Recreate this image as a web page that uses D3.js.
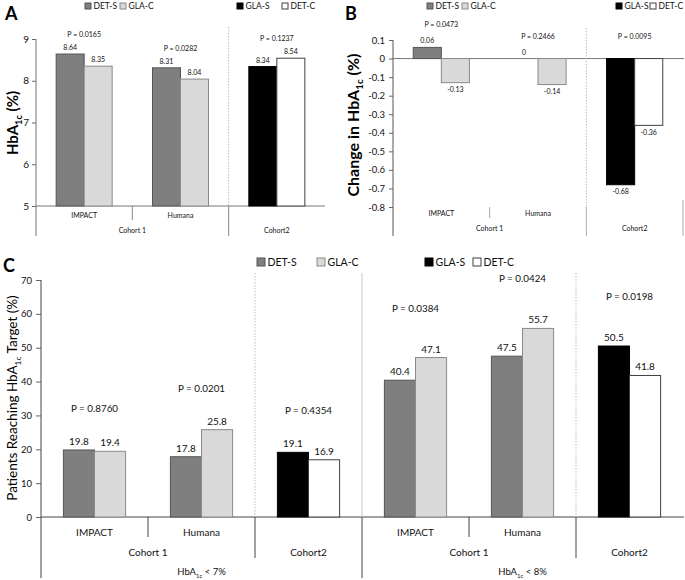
<!DOCTYPE html>
<html>
<head>
<meta charset="utf-8">
<script src="https://cdn.jsdelivr.net/npm/d3@7"></script>
<style>
  body { margin: 0; background: #fff; }
  svg { display: block; font-family: Lato, "Open Sans", sans-serif; }
</style>
</head>
<body>
<div id="chart"></div>
<script>
// chart data
var groups = ["IMPACT", "Humana", "Cohort2"];
var cohortLabels = ["Cohort 1", "Cohort2"];
var cohort1Series = ["DET-S", "GLA-C"];
var cohort2Series = ["GLA-S", "DET-C"];

// panel A - HbA1c
var hbaValues = [[8.64, 8.35], [8.31, 8.04], [8.34, 8.54]];
var hbaP = ["P = 0.0165", "P = 0.0282", "P = 0.1237"];
var hbaTicks = [5, 6, 7, 8, 9];

// panel B - change in HbA1c
var changeValues = [[0.06, -0.13], [0, -0.14], [-0.68, -0.36]];
var changeP = ["P = 0.0473", "P = 0.2466", "P = 0.0095"];
var changeTicks = [0.1, 0, -0.1, -0.2, -0.3, -0.4, -0.5, -0.6, -0.7, -0.8];

// panel C - patients reaching target
var targetSections = ["< 7%", "< 8%"];
var target7Values = [[19.8, 19.4], [17.8, 25.8], [19.1, 16.9]];
var target7P = ["P = 0.8760", "P = 0.0201", "P = 0.4354"];
var target8Values = [[40.4, 47.1], [47.5, 55.7], [50.5, 41.8]];
var target8P = ["P = 0.0384", "P = 0.0424", "P = 0.0198"];
var targetTicks = [0, 10, 20, 30, 40, 50, 60, 70];

var fills = {"DET-S": "#7f7f7f", "GLA-C": "#d9d9d9", "GLA-S": "#000000", "DET-C": "#ffffff"};
var strokes = {"DET-S": "#555555", "GLA-C": "#8a8a8a", "GLA-S": "#000000", "DET-C": "#404040"};

var svg = d3.select("#chart").append("svg")
  .attr("width", 685)
  .attr("height", 580);

function seriesOf(i) {
  return i % 3 == 2 ? cohort2Series : cohort1Series;
}

// write "HbA" with a subscript "1c"
function hbaText(sel, before, after, size) {
  sel.append("tspan").text(before + "HbA");
  sel.append("tspan").attr("font-size", size * 0.62).attr("dy", size * 0.28).text("1c");
  sel.append("tspan").attr("dy", -size * 0.28).text(after);
}

function line(g, x1, y1, x2, y2, color, dash) {
  g.append("line")
    .attr("x1", x1).attr("y1", y1).attr("x2", x2).attr("y2", y2)
    .attr("stroke", color)
    .attr("stroke-width", 1)
    .attr("stroke-dasharray", dash || null);
}

function label(g, x, y, txt, size, anchor) {
  return g.append("text")
    .attr("x", x).attr("y", y)
    .attr("text-anchor", anchor || "middle")
    .attr("font-size", size)
    .attr("fill", "#111")
    .text(txt);
}

function legend(g, items, xs, y, box, size) {
  items.forEach(function(name, i) {
    g.append("rect")
      .attr("x", xs[i]).attr("y", y - box / 2)
      .attr("width", box).attr("height", box)
      .attr("fill", fills[name])
      .attr("stroke", strokes[name]);
    label(g, xs[i] + box + 2.5, y + size * 0.36, name, size, "start");
  });
}

// bars + value labels + p labels for a set of groups
function drawBars(g, x, y, base, values, pvals, o) {
  var inner = d3.scaleBand().domain([0, 1]).range([0, x.bandwidth()]).paddingOuter(0.72);
  var bars = [];
  values.forEach(function(pair, i) {
    pair.forEach(function(v, j) {
      bars.push({g: i + o.offset, s: j, v: v, name: seriesOf(i)[j]});
    });
  });

  g.selectAll(null).data(bars.filter(function(d) { return d.v != base; })).enter()
    .append("rect")
    .attr("x", function(d) { return x(d.g) + inner(d.s); })
    .attr("y", function(d) { return y(Math.max(d.v, base)); })
    .attr("width", inner.bandwidth())
    .attr("height", function(d) { return Math.abs(y(d.v) - y(base)); })
    .attr("fill", function(d) { return fills[d.name]; })
    .attr("stroke", function(d) { return strokes[d.name]; })
    .attr("stroke-width", 1);

  g.selectAll(null).data(bars).enter()
    .append("text")
    .attr("x", function(d) { return x(d.g) + inner(d.s) + inner.bandwidth() / 2; })
    .attr("y", function(d) {
      return d.v >= base ? y(d.v) - o.gap : y(d.v) + o.gap + o.valueSize * 0.75;
    })
    .attr("text-anchor", "middle")
    .attr("font-size", o.valueSize)
    .attr("fill", "#111")
    .text(function(d) { return String(d.v); });

  pvals.forEach(function(p, i) {
    var top = Math.max(base, d3.max(values[i]));
    label(g, x(i + o.offset) + x.bandwidth() / 2, y(top) - o.pGap, p, o.pSize);
  });
}

function yAxis(g, y, ticks, x0, size, tickSize, pad) {
  var ax = g.append("g")
    .attr("transform", "translate(" + x0 + ",0)")
    .call(d3.axisLeft(y).tickValues(ticks).tickSize(tickSize).tickPadding(pad)
      .tickFormat(function(d) { return String(d); }));
  ax.select(".domain").remove();
  ax.selectAll("line").attr("stroke", "#666");
  ax.selectAll("text").attr("font-size", size).attr("fill", "#111")
    .attr("font-family", "Lato, sans-serif");
}

// category rows under an axis: first two groups, then cohort names
function categoryRows(g, x, k, y1, y2, size) {
  label(g, x(k) + x.bandwidth() / 2, y1, groups[0], size);
  label(g, x(k + 1) + x.bandwidth() / 2, y1, groups[1], size);
  label(g, x(k + 1), y2, cohortLabels[0], size);
  label(g, x(k + 2) + x.bandwidth() / 2, y2, cohortLabels[1], size);
}

// ---------- panel A ----------
var gA = svg.append("g");
var xA = d3.scaleBand().domain([0, 1, 2]).range([36, 325]);
var yA = d3.scaleLinear().domain([5, 9]).range([206, 39]);
yAxis(gA, yA, hbaTicks, 36, 10, 4, 3);
line(gA, 36, 39, 36, 236, "#777");
line(gA, 36, 206, 325, 206, "#777");
line(gA, xA(1), 206, xA(1), 220, "#888");
line(gA, xA(2), 27, xA(2), 206, "#bbb", "1.5,1.5");
line(gA, xA(2), 206, xA(2), 236, "#888");
drawBars(gA, xA, yA, 5, hbaValues, hbaP, {offset: 0, gap: 4, valueSize: 7, pGap: 17, pSize: 7});
categoryRows(gA, xA, 0, 218, 233, 7);
legend(gA, cohort1Series, [85, 120], 6, 6, 8.5);
legend(gA, cohort2Series, [237, 282], 6, 6, 8.5);
gA.append("text").attr("x", 5).attr("y", 20).attr("font-size", 18).attr("font-weight", "bold").text("A");
hbaText(gA.append("text")
  .attr("transform", "translate(18,123) rotate(-90)")
  .attr("text-anchor", "middle")
  .attr("font-size", 15)
  .attr("font-weight", "bold"), "", " (%)", 15);

// ---------- panel B ----------
var gB = svg.append("g");
var xB = d3.scaleBand().domain([0, 1, 2]).range([393, 683]);
var yB = d3.scaleLinear().domain([-0.8, 0.1]).range([207, 40]);
yAxis(gB, yB, changeTicks, 393, 9.5, 4, 4);
line(gB, 393, 40, 393, 236, "#555");
line(gB, 393, yB(0), 684, yB(0), "#777");
line(gB, xB(1), 207, xB(1), 218, "#aaa");
line(gB, xB(2), 28, xB(2), 207, "#bbb", "1.5,1.5");
line(gB, xB(2), 207, xB(2), 236, "#aaa");
line(gB, 683, 200, 683, 236, "#aaa");
drawBars(gB, xB, yB, 0, changeValues, changeP, {offset: 0, gap: 4, valueSize: 7, pGap: 20, pSize: 7});
categoryRows(gB, xB, 0, 215.5, 231, 7);
legend(gB, cohort1Series, [427, 462], 6, 6, 8.5);
legend(gB, cohort2Series, [616, 650], 6, 6, 8.5);
gB.append("text").attr("x", 345).attr("y", 20).attr("font-size", 18).attr("font-weight", "bold").text("B");
hbaText(gB.append("text")
  .attr("transform", "translate(359,125) rotate(-90)")
  .attr("text-anchor", "middle")
  .attr("font-size", 16)
  .attr("font-weight", "bold"), "Change in ", " (%)", 16);

// ---------- panel C ----------
var gC = svg.append("g");
var xC = d3.scaleBand().domain(d3.range(6)).range([41, 683]);
var yC = d3.scaleLinear().domain([0, 70]).range([517, 280]);
yAxis(gC, yC, targetTicks, 41, 9.5, 5, 4);
line(gC, 41, 280, 41, 578, "#444");
line(gC, 41, 517, 684, 517, "#444");
[target7Values, target8Values].forEach(function(vals, s) {
  var k = s * 3;
  var pv = s == 0 ? target7P : target8P;
  line(gC, xC(k + 1), 517, xC(k + 1), 537, "#444");
  line(gC, xC(k + 2), 273, xC(k + 2), 517, "#bbb", "1.5,1.5");
  line(gC, xC(k + 2), 517, xC(k + 2), 558, "#444");
  drawBars(gC, xC, yC, 0, vals, pv, {offset: k, gap: 5, valueSize: 10, pGap: 38 + s * 8, pSize: 9.8});
  categoryRows(gC, xC, k, 536, 556, 10);
  hbaText(label(gC, (xC(k) + xC(k + 2) + xC.bandwidth()) / 2, 575, "", 9.5), "", " " + targetSections[s], 9.5);
});
line(gC, xC(3), 273, xC(3), 517, "#c8c8c8");
line(gC, xC(3), 517, xC(3), 578, "#444");
legend(gC, cohort1Series, [257, 317], 262, 8, 10.5);
legend(gC, cohort2Series, [425, 473], 262, 8, 10.5);
gC.append("text").attr("x", 3).attr("y", 272).attr("font-size", 18).attr("font-weight", "bold").text("C");
hbaText(gC.append("text")
  .attr("transform", "translate(17,398) rotate(-90)")
  .attr("text-anchor", "middle")
  .attr("font-size", 13.5), "Patients Reaching ", " Target (%)", 13.5);
</script>
</body>
</html>
